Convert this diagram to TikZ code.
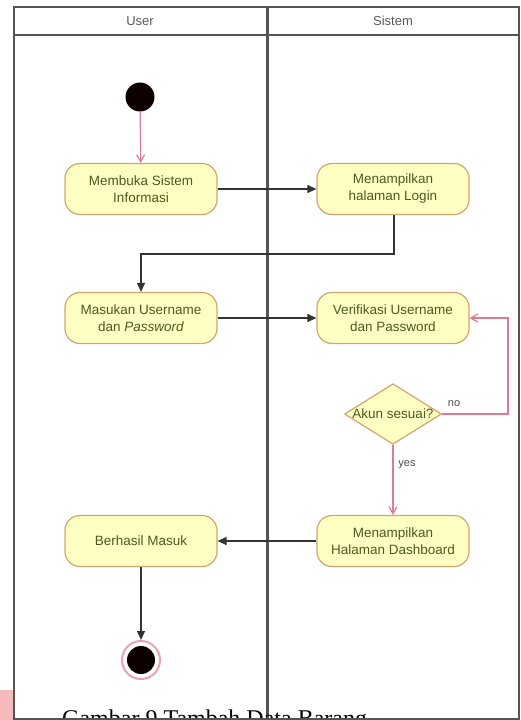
\documentclass[tikz,border=0pt]{standalone}
\usepackage{fontspec}
\setmainfont{Liberation Sans}
\newfontfamily\capfont{Liberation Serif}
\usetikzlibrary{shapes.geometric,arrows.meta}
\definecolor{actfill}{HTML}{FFFFC4}
\definecolor{actline}{HTML}{D6A46C}
\definecolor{acttext}{HTML}{4A5A22}
\definecolor{flowpink}{HTML}{E07A92}
\definecolor{lanegray}{HTML}{555555}
\definecolor{tabpink}{HTML}{F6B9BC}
\tikzset{
  activity/.style={draw=actline, fill=actfill, rounded corners=15pt, line width=1.2pt,
    minimum width=152pt, minimum height=51pt, align=center, text=acttext,
    font=\fontsize{13.5}{17}\selectfont},
  choice/.style={diamond, draw=actline, fill=actfill, line width=1.2pt, aspect=1.6,
    minimum width=95pt, minimum height=60pt, inner sep=0pt, text=acttext,
    font=\fontsize{13.5}{17}\selectfont},
  flow/.style={-{Triangle[length=9pt,width=8pt]}, line width=1.1pt, draw=black!80},
  okflow/.style={-{Straight Barb[length=7pt,width=8pt]}, line width=1.2pt, draw=flowpink},
  lane/.style={draw=lanegray, line width=2pt},
  lanehead/.style={text=black!65, font=\fontsize{13}{15}\selectfont},
  guard/.style={text=black!70, font=\fontsize{11}{13}\selectfont}
}
\begin{document}
\begin{tikzpicture}[x=1pt,y=-1pt]
\useasboundingbox (0,0) rectangle (521,720);
\clip (0,0) rectangle (521,720);
\fill[white] (0,0) rectangle (521,720);
% swimlane frame
\draw[lane] (14,7) rectangle (519,719);
\draw[lane] (14,35) -- (519,35);
\draw[draw=lanegray, line width=3pt] (267,7) -- (267,720);
\node[lanehead] (hu) at (140,21) {User};
\node[lanehead] (hs) at (393,21) {Sistem};
% activities
\node[circle, fill=black!95!red, minimum size=29pt, inner sep=0pt] (start) at (140,97) {};
\node[activity] (buka) at (141,189) {Membuka Sistem\\Informasi};
\node[activity] (login) at (393,189) {Menampilkan\\halaman Login};
\node[activity] (masuk) at (141,318) {Masukan Username\\dan \textit{Password}};
\node[activity] (verif) at (393,318) {Verifikasi Username\\dan Password};
\node[choice] (cek) at (393,414) {Akun sesuai?};
\node[activity] (dash) at (393,541) {Menampilkan\\Halaman Dashboard};
\node[activity] (ok) at (141,541) {Berhasil Masuk};
\node[circle, draw=flowpink!70, line width=2pt, fill=white, minimum size=38pt, inner sep=0pt] (stop) at (141,660) {};
\node[circle, fill=black!95!red, minimum size=28pt, inner sep=0pt] (stopdot) at (141,660) {};
% flows
\coordinate (turn1) at (394,254);
\coordinate (turn2) at (141,254);
\coordinate (back1) at (508,414);
\coordinate (back2) at (508,318);
\draw[okflow] (start) -- (buka);
\draw[flow] (buka) -- (login);
\draw[flow] (login.south -| turn1) -- (turn1) -- (turn2) -- (masuk);
\draw[flow] (masuk) -- (verif);
\draw[okflow] (cek.east) -- (back1) -- (back2) -- (verif.east);
\draw[okflow] (cek.south) -- (dash);
\draw[flow] (dash) -- (ok);
\draw[flow] (ok) -- (stop);
\node[guard] (lno) at (454,404) {no};
\node[guard] (lyes) at (407,465) {yes};
% caption strip
\fill[tabpink] (0,690) rectangle (13,720);
\node[anchor=base west, inner sep=0pt, font=\capfont\fontsize{24}{26}\selectfont] (cap) at (62,726) {Gambar 9 Tambah Data Barang};
\draw[lane] (14,719) -- (519,719);
\end{tikzpicture}
\end{document}
